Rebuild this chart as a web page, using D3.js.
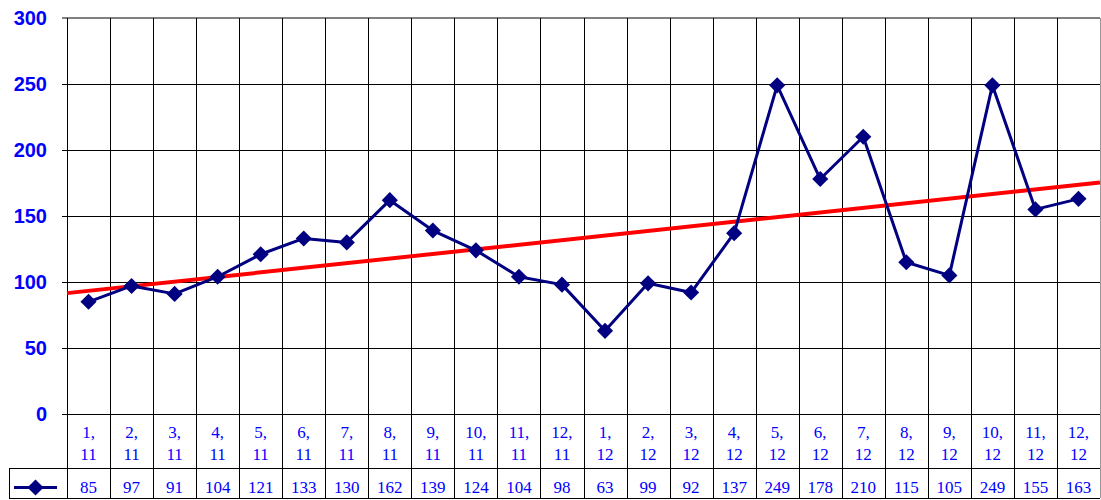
<!DOCTYPE html>
<html>
<head>
<meta charset="utf-8">
<script src="https://cdn.jsdelivr.net/npm/d3@7"></script>
<style>
  body { margin: 0; background: #fff; }
  svg { display: block; }
</style>
</head>
<body>
<svg id="chart" width="1101" height="500"></svg>
<script>
// data
const months = ['1', '2', '3', '4', '5', '6', '7', '8', '9', '10', '11', '12', '1', '2', '3', '4', '5', '6', '7', '8', '9', '10', '11', '12']
const years = ['11', '11', '11', '11', '11', '11', '11', '11', '11', '11', '11', '11', '12', '12', '12', '12', '12', '12', '12', '12', '12', '12', '12', '12']
const values = [85, 97, 91, 104, 121, 133, 130, 162, 139, 124, 104, 98, 63, 99, 92, 137, 249, 178, 210, 115, 105, 249, 155, 163]
const yTicks = [0, 50, 100, 150, 200, 250, 300]

const svg = d3.select('#chart')
const plotLeft = 67, plotRight = 1100, plotTop = 18, plotBottom = 414
const rowLabel = 468, rowEnd = 498

const idx = d3.range(values.length)
const x = d3.scaleBand().domain(idx).range([plotLeft, plotRight])
const y = d3.scaleLinear().domain([0, 300]).range([plotBottom, plotTop])
const cx = i => x(i) + x.bandwidth() / 2

// horizontal grid
svg.append('g')
  .selectAll('line')
  .data(yTicks.filter(d => d < 300))
  .enter().append('line')
  .attr('x1', plotLeft - 5).attr('x2', plotRight)
  .attr('y1', d => Math.round(y(d)) + 0.5).attr('y2', d => Math.round(y(d)) + 0.5)
  .attr('stroke', '#000').attr('stroke-width', 1)

svg.append('line')
  .attr('x1', plotLeft - 5).attr('x2', plotRight)
  .attr('y1', y(300)).attr('y2', y(300))
  .attr('stroke', '#808080').attr('stroke-width', 2)

// vertical grid (plot + label row + value row)
const edges = idx.map(i => x(i)).concat([plotRight])
svg.append('g')
  .selectAll('line')
  .data(edges)
  .enter().append('line')
  .attr('x1', d => Math.round(d) + 0.5).attr('x2', d => Math.round(d) + 0.5)
  .attr('y1', plotTop).attr('y2', rowEnd)
  .attr('stroke', (d, i) => i === edges.length - 1 ? '#999' : '#000')

// table rows
svg.append('line')
  .attr('x1', 9).attr('x2', plotRight)
  .attr('y1', rowLabel + 0.5).attr('y2', rowLabel + 0.5)
  .attr('stroke', '#000')
svg.append('line')
  .attr('x1', 9).attr('x2', plotRight)
  .attr('y1', rowEnd + 0.5).attr('y2', rowEnd + 0.5)
  .attr('stroke', '#000')
svg.append('line')
  .attr('x1', 9.5).attr('x2', 9.5)
  .attr('y1', rowLabel).attr('y2', rowEnd)
  .attr('stroke', '#000')

// y axis labels
svg.append('g')
  .selectAll('text')
  .data(yTicks)
  .enter().append('text')
  .attr('x', 47)
  .attr('y', d => y(d) + 7)
  .attr('text-anchor', 'end')
  .style('font', 'bold 20px Arial, "Liberation Sans", sans-serif')
  .attr('fill', '#0000ff')
  .text(d => d)

// category labels
const cat = svg.append('g')
  .style('font', '17px "Times New Roman", "Liberation Serif", serif')
  .attr('fill', '#0000ff')
  .attr('text-anchor', 'middle')
cat.selectAll('.m').data(idx).enter().append('text')
  .attr('x', cx).attr('y', 438)
  .text(i => months[i] + ',')
cat.selectAll('.yr').data(idx).enter().append('text')
  .attr('x', cx).attr('y', 460)
  .text(i => years[i])
cat.selectAll('.v').data(idx).enter().append('text')
  .attr('x', cx).attr('y', 493)
  .text(i => values[i])

// trend line (least squares on the series)
const mx = d3.mean(idx), my = d3.mean(values)
const slope = d3.sum(idx, i => (i - mx) * (values[i] - my)) / d3.sum(idx, i => (i - mx) * (i - mx))
const trend = i => my + slope * (i - mx)
const xi = d3.scaleLinear().domain([-0.5, values.length - 0.5]).range([plotLeft, plotRight])
svg.append('line')
  .attr('x1', xi(-0.5)).attr('y1', y(trend(-0.5)))
  .attr('x2', xi(values.length - 0.5)).attr('y2', y(trend(values.length - 0.5)))
  .attr('stroke', '#ff0000').attr('stroke-width', 4)

// series
const line = d3.line().x(cx).y(i => y(values[i]))
svg.append('path')
  .datum(idx)
  .attr('d', line)
  .attr('fill', 'none')
  .attr('stroke', '#000080')
  .attr('stroke-width', 3)
  .attr('stroke-linejoin', 'round')

const diamond = d3.symbol().type(d3.symbolSquare).size(130)
svg.append('g')
  .selectAll('path')
  .data(idx)
  .enter().append('path')
  .attr('d', diamond)
  .attr('transform', i => `translate(${cx(i)},${y(values[i])}) rotate(45)`)
  .attr('fill', '#000080')

// legend key in table
svg.append('line')
  .attr('x1', 14).attr('x2', 57)
  .attr('y1', 487.5).attr('y2', 487.5)
  .attr('stroke', '#000080').attr('stroke-width', 3)
svg.append('path')
  .attr('d', diamond)
  .attr('transform', 'translate(35.5,487.5) rotate(45)')
  .attr('fill', '#000080')
</script>
</body>
</html>
